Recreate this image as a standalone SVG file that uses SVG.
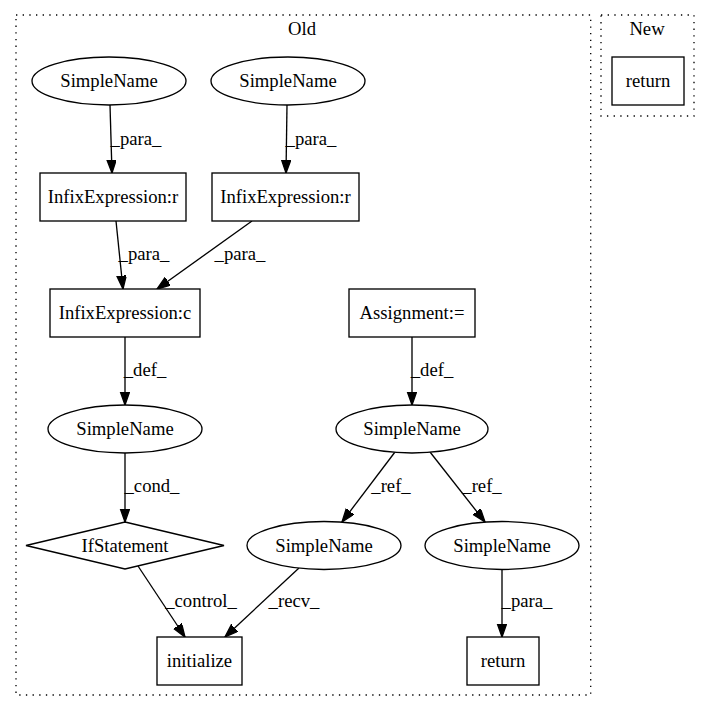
<svg xmlns="http://www.w3.org/2000/svg" width="711" height="712" viewBox="0 0 711 712" font-family="'Liberation Serif', 'Times New Roman', 'DejaVu Serif', serif">
<defs>
<style>
text{font-family:'Liberation Serif','Times New Roman','DejaVu Serif',serif;font-size:18.67px;fill:#000;text-anchor:middle}
.n{fill:#fff;stroke:#000;stroke-width:1.33}
.c{fill:none;stroke:#000;stroke-width:1.33;stroke-dasharray:1.33,5.33}
.e{fill:none;stroke:#000;stroke-width:1.33;marker-end:url(#ah)}
</style>
<marker id="ah" markerUnits="userSpaceOnUse" markerWidth="16" markerHeight="12" refX="13.3" refY="4.7" orient="auto" viewBox="0 0 16 12">
<polygon points="0,0 13.3,4.7 0,9.4" fill="#000" stroke="#000" stroke-width="1.33"/>
</marker>
</defs>
<rect width="711" height="712" fill="#fff"/>
<g id="cluster_old">
<rect class="c" x="16" y="15" width="574.7" height="680"/>
<text x="302" y="35">Old</text>
</g>
<g id="cluster_new">
<rect class="c" x="601" y="15" width="93" height="101"/>
<text x="647" y="35">New</text>
</g>
<g id="edges">
<path class="e" d="M110,105 L112,173"/>
<text x="136" y="145">_para_</text>
<path class="e" d="M287,105 L286,173"/>
<text x="311" y="145">_para_</text>
<path class="e" d="M116,221 L123,289"/>
<text x="144" y="260">_para_</text>
<path class="e" d="M252,221 L157,289"/>
<text x="240" y="260">_para_</text>
<path class="e" d="M125,337 L125,405"/>
<text x="145" y="376">_def_</text>
<path class="e" d="M412,337 L412,405"/>
<text x="432" y="376">_def_</text>
<path class="e" d="M125,453 L125,522"/>
<text x="152" y="492">_cond_</text>
<path class="e" d="M395,452 L342,522"/>
<text x="391" y="492">_ref_</text>
<path class="e" d="M430,452 L485,522"/>
<text x="482" y="492">_ref_</text>
<path class="e" d="M502,569.5 L502,637"/>
<text x="527" y="607">_para_</text>
<path class="e" d="M138,566 L185,637"/>
<text x="201" y="607">_control_</text>
<path class="e" d="M299,568 L225,637"/>
<text x="294" y="607">_recv_</text>
</g>
<g id="sn1"><ellipse class="n" cx="109" cy="81" rx="77" ry="24"/><text x="109" y="87">SimpleName</text></g>
<g id="sn2"><ellipse class="n" cx="288" cy="81" rx="77" ry="24"/><text x="288" y="87">SimpleName</text></g>
<g id="infr1"><rect class="n" x="40" y="173" width="146" height="48"/><text x="113" y="203">InfixExpression:r</text></g>
<g id="infr2"><rect class="n" x="212" y="173" width="147" height="48"/><text x="285.5" y="203">InfixExpression:r</text></g>
<g id="infc"><rect class="n" x="50" y="289" width="150" height="48"/><text x="125" y="319">InfixExpression:c</text></g>
<g id="assign"><rect class="n" x="349" y="289" width="126" height="48"/><text x="412" y="319">Assignment:=</text></g>
<g id="sn3"><ellipse class="n" cx="125" cy="429" rx="77" ry="24"/><text x="125" y="435">SimpleName</text></g>
<g id="sn4"><ellipse class="n" cx="412" cy="429" rx="76" ry="24"/><text x="412" y="435">SimpleName</text></g>
<g id="ifstmt"><polygon class="n" points="125,522 224,545.5 125,569 26,545.5"/><text x="125" y="551.5">IfStatement</text></g>
<g id="sn5"><ellipse class="n" cx="324" cy="545.5" rx="77" ry="24"/><text x="324" y="551.5">SimpleName</text></g>
<g id="sn6"><ellipse class="n" cx="502" cy="545.5" rx="77" ry="24"/><text x="502" y="551.5">SimpleName</text></g>
<g id="init"><rect class="n" x="157" y="637" width="85" height="48"/><text x="199.5" y="667">initialize</text></g>
<g id="ret_old"><rect class="n" x="467" y="637" width="72" height="48"/><text x="503" y="667">return</text></g>
<g id="ret_new"><rect class="n" x="612" y="57" width="72" height="48"/><text x="648" y="87">return</text></g>
</svg>
